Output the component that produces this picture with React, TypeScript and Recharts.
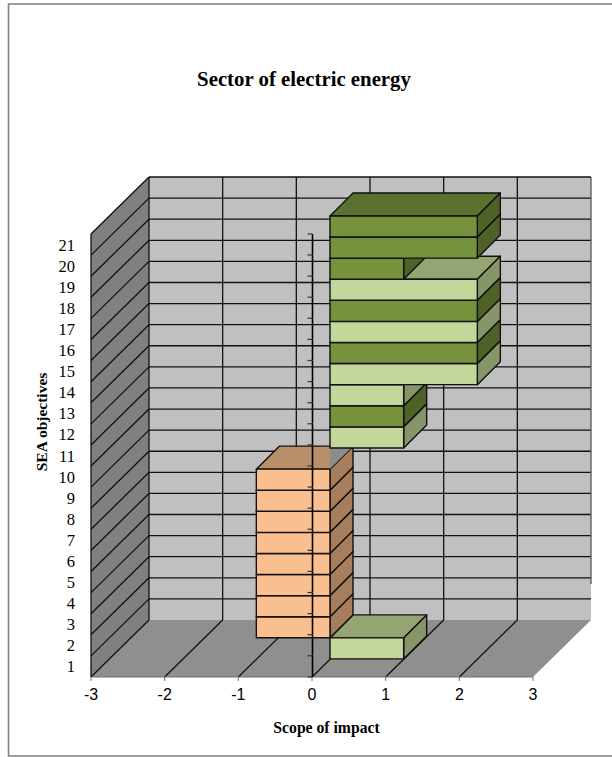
import React from "react";
import { BarChart, Bar, XAxis, YAxis, Customized } from "recharts";

const categories = ["1","2","3","4","5","6","7","8","9","10","11","12","13","14","15","16","17","18","19","20","21"];
const impactValues = [1,-1,-1,-1,-1,-1,-1,-1,-1,0,1,1,1,2,2,2,2,2,1,2,2];
const impactTones = ["light","orange","orange","orange","orange","orange","orange","orange","orange","none","light","dark","light","light","dark","light","dark","light","dark","dark","dark"];
const scopeTicks = [-3,-2,-1,0,1,2,3];
const zeroLine = categories.map(() => 0);

const chartTitle = "Sector of electric energy";
const xTitle = "Scope of impact";
const yTitle = "SEA objectives";

const data = categories.map((category, i) => ({ category, impact: impactValues[i], tone: impactTones[i], axis: zeroLine[i] }));

const W = 612, H = 757;
const PL = 91, PR = 533, PT = 234, PB = 677;
const PW = PR - PL, PH = PB - PT;
const DX = 58, DY = 57;   // depth of the chart box
const GAP = 18, BD = 23;  // gap before bars, depth of bars
const BAND = PH / categories.length;
const LINE = "#111";
const MARGIN = { top: PT, right: W - PR, bottom: 50, left: PL - 60 };
const OVERLAY_MARGIN = { top: PT, right: W - PR, bottom: H - PB, left: PL };

const palette: Record<string, { front: string; top: string; side: string }> = {
  light: { front: "#c4d79b", top: "#94a473", side: "#869668" },
  dark: { front: "#76923c", top: "#5c702f", side: "#4f6127" },
  orange: { front: "#fabf8f", top: "#b98f6b", side: "#a67e5b" },
};

const pts = (a: number[][]) => a.map((p) => p.join(",")).join(" ");

function Bar3D(props: any) {
  const { x, y, width, height, tone } = props;
  const x0 = Math.min(x, x + width) + GAP;
  const x1 = Math.max(x, x + width) + GAP;
  const yT = y - GAP;
  const yB = y + height - GAP;
  if (tone === "none") {
    return <polygon points={pts([[x0, yB], [x0, yT], [x0 + BD, yT - BD], [x0 + BD, yB - BD]])} fill="#8c8c8c" />;
  }
  const c = palette[tone];
  return (
    <g stroke={LINE} strokeWidth={1.4} strokeLinejoin="round">
      <polygon points={pts([[x0, yT], [x1, yT], [x1 + BD, yT - BD], [x0 + BD, yT - BD]])} fill={c.top} />
      <polygon points={pts([[x1, yT], [x1, yB], [x1 + BD, yB - BD], [x1 + BD, yT - BD]])} fill={c.side} />
      <rect x={x0} y={yT} width={x1 - x0} height={yB - yT} fill={c.front} />
    </g>
  );
}

// The vertical axis at zero sits in front of the bars: one segment and one tick per category.
function ZeroAxisSegment(props: any) {
  const { x, y, height, index } = props;
  const cx = x + 0.5;
  return (
    <g>
      <line x1={cx} x2={cx} y1={y} y2={y + height} stroke="#000" strokeWidth={1.6} />
      <line x1={cx - 5} x2={cx} y1={y + height} y2={y + height} stroke="#333" strokeWidth={1.2} />
      {index === categories.length - 1 ? <line x1={cx - 5} x2={cx} y1={y} y2={y} stroke="#333" strokeWidth={1.2} /> : null}
    </g>
  );
}

function ScopeTick(props: any) {
  const { x, y, payload } = props;
  return (
    <text x={x} y={y + 17} textAnchor="middle" fontFamily="'Liberation Sans', Arial, sans-serif" fontSize={16} fill="#000">{payload.value}</text>
  );
}

function Box3D() {
  const steps = categories.map((_, i) => i + 1);
  const tickX = scopeTicks.map((t) => PL + ((t + 3) / 6) * PW);
  const serif = "'Liberation Serif', serif";
  return (
    <g>
      <polyline points={`${W},4 8.5,4 8.5,756 ${W},756`} fill="none" stroke="#808080" strokeWidth={1.6} />
      <text x={304} y={86} textAnchor="middle" fontFamily={serif} fontWeight={700} fontSize={20.8} fill="#000">{chartTitle}</text>
      <text x={326.5} y={733} textAnchor="middle" fontFamily={serif} fontWeight={700} fontSize={15.7} fill="#000">{xTitle}</text>
      <text x={0} y={0} transform="translate(47 422) rotate(-90)" textAnchor="middle" fontFamily={serif} fontWeight={700} fontSize={15.5} fill="#000">{yTitle}</text>

      <polygon points={pts([[PL + DX, PT - DY], [PR + DX, PT - DY], [PR + DX, PB - DY], [PL + DX, PB - DY]])} fill="#c0c0c0" />
      <polygon points={pts([[PL, PT], [PL + DX, PT - DY], [PL + DX, PB - DY], [PL, PB]])} fill="#808080" />
      <polygon points={pts([[PL, PB], [PR, PB], [PR + DX, PB - DY], [PL + DX, PB - DY]])} fill="#8f8f8f" />

      <g stroke={LINE} strokeWidth={1.3} fill="none">
        {steps.map((k) => (
          <g key={k}>
            <line x1={PL + DX} x2={PR + DX} y1={PB - DY - k * BAND} y2={PB - DY - k * BAND} />
            <line x1={PL} x2={PL + DX} y1={PB - k * BAND} y2={PB - DY - k * BAND} />
          </g>
        ))}
        {tickX.slice(0, 6).map((x, i) => (
          <g key={i}>
            <line x1={x + DX} x2={x + DX} y1={PT - DY} y2={PB - DY} />
            <line x1={x} x2={x + DX} y1={PB} y2={PB - DY} />
          </g>
        ))}
        <line x1={tickX[6] + DX} x2={tickX[6] + DX} y1={PT - DY} y2={PB - DY - 36} stroke="#555" />
        <line x1={PL} x2={PL} y1={PT} y2={PB} />
      </g>
    </g>
  );
}

function CategoryTick(props: any) {
  const { y, payload } = props;
  return (
    <text x={75} y={y + 6} textAnchor="end" fontFamily="'Liberation Serif', serif" fontSize={16.5} fill="#000">{payload.value}</text>
  );
}

export default function App() {
  return (
    <div style={{ position: "absolute", left: 0, top: 0, width: W, height: H, background: "#fff" }}>
      <div style={{ position: "absolute", left: 0, top: 0 }}>
        <BarChart width={W} height={H} data={data} layout="vertical" barCategoryGap={0} barGap={0} margin={MARGIN}>
          <Customized component={Box3D} />
          <XAxis
            type="number"
            domain={[-3, 3]}
            ticks={scopeTicks}
            height={30}
            interval={0}
            allowDataOverflow
            stroke="#6e6e6e"
            tickSize={4}
            tick={<ScopeTick />}
          />
          <YAxis
            type="category"
            dataKey="category"
            reversed
            width={60}
            interval={0}
            axisLine={false}
            tickLine={false}
            tick={<CategoryTick />}
          />
          <Bar dataKey="impact" isAnimationActive={false} shape={(p: any) => <Bar3D {...p} tone={p.payload.tone} />} />
        </BarChart>
      </div>
      <div style={{ position: "absolute", left: 0, top: 0 }}>
        <BarChart width={W} height={H} data={data} layout="vertical" barCategoryGap={0} barGap={0} margin={OVERLAY_MARGIN}>
          <XAxis type="number" domain={[-3, 3]} hide />
          <YAxis type="category" dataKey="category" reversed hide />
          <Bar dataKey="axis" isAnimationActive={false} shape={(p: any) => <ZeroAxisSegment {...p} />} />
        </BarChart>
      </div>
    </div>
  );
}
